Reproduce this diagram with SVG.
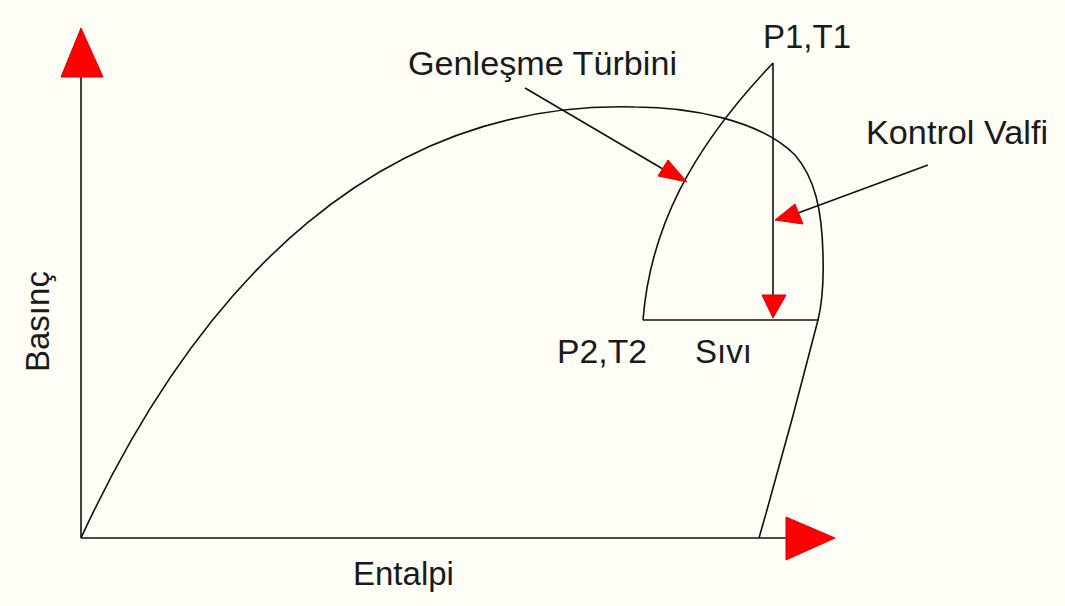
<svg xmlns="http://www.w3.org/2000/svg" width="1065" height="606" viewBox="0 0 1065 606">
<style>
.ln{fill:none;stroke:#111;stroke-width:1.6}
.ah{fill:#ff0000;stroke:#e00000;stroke-width:1}
.t{font-family:"Liberation Sans",Arial,sans-serif;font-size:33px;fill:#1a1a1a}
</style>
<rect width="1065" height="606" fill="#fefdf6"/>
<g id="axes">
<line class="ln" x1="81" y1="76" x2="81" y2="538"/>
<line class="ln" x1="81" y1="538" x2="787" y2="538"/>
<polygon class="ah" points="81,28 103,77 61,77"/>
<polygon class="ah" points="835,538 786,517 786,560"/>
</g>
<g id="dome">
<path class="ln" d="M81,538 C200,280 380,100 635,107 C690,107 760,120 795,155 C815,178 822,210 823,255 C824,290 821,308 818,320 Q790,430 759,538"/>
</g>
<g id="process">
<path class="ln" d="M643,320 C650,230 690,150 773,63"/>
<line class="ln" x1="773" y1="63" x2="773" y2="300"/>
<line class="ln" x1="643" y1="320" x2="818" y2="320"/>
<polygon class="ah" points="773,318 762,295 786,295"/>
</g>
<g id="connectors">
<line class="ln" x1="525" y1="88" x2="668" y2="172"/>
<polygon class="ah" points="687,182 658,176 668,160"/>
<line class="ln" x1="928" y1="165" x2="798" y2="213"/>
<polygon class="ah" points="775,220 795,204 803,224"/>
</g>
<g id="labels">
<text class="t" x="408" y="75" textLength="269" lengthAdjust="spacingAndGlyphs">Genleşme Türbini</text>
<text class="t" x="763" y="48">P1,T1</text>
<text class="t" x="866" y="144" textLength="182" lengthAdjust="spacingAndGlyphs">Kontrol Valfi</text>
<text class="t" x="557" y="363" textLength="90" lengthAdjust="spacingAndGlyphs">P2,T2</text>
<text class="t" x="695" y="363">Sıvı</text>
<text class="t" x="353" y="585">Entalpi</text>
<text class="t" transform="translate(49,372) rotate(-90)">Basınç</text>
</g>
</svg>
